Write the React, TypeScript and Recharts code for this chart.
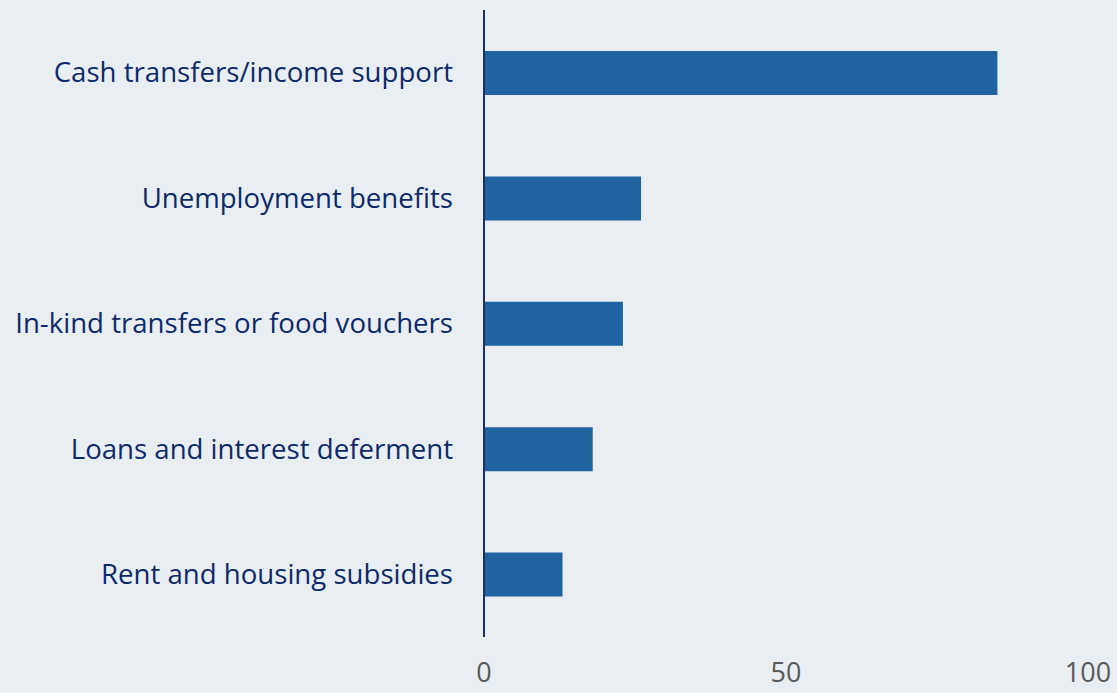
import React from "react";
import { BarChart, Bar, XAxis, YAxis } from "recharts";

// Support measures, share (%)
const categories = [
  "Cash transfers/income support",
  "Unemployment benefits",
  "In-kind transfers or food vouchers",
  "Loans and interest deferment",
  "Rent and housing subsidies",
];
const shares = [85, 26, 23, 18, 13];
const xTicks = [0, 50, 100];

const data = categories.map((name, i) => ({ name, value: shares[i] }));

const FONT = "'Open Sans', 'Noto Sans', sans-serif";

export default function App() {
  return (
    <div
      style={{
        position: "absolute",
        left: 0,
        top: 0,
        width: 1117,
        height: 693,
        background: "#E9EEF3",
        fontFamily: FONT,
      }}
    >
      <BarChart
        width={1117}
        height={693}
        data={data}
        layout="vertical"
        margin={{ top: 10, right: 29, bottom: 0, left: 0 }}
      >
        <XAxis
          type="number"
          domain={[0, 100]}
          ticks={xTicks}
          axisLine={false}
          tickLine={false}
          tickSize={0}
          tickMargin={26}
          height={56}
          tick={{ fill: "#595959", fontSize: 27, fontFamily: FONT }}
        />
        <YAxis
          type="category"
          dataKey="name"
          width={484}
          axisLine={{ stroke: "#1B2F6B", strokeWidth: 2 }}
          tickLine={false}
          tickSize={0}
          tickMargin={31}
          interval={0}
          tick={{ fill: "#0D2A6B", fontSize: 27.6, fontFamily: FONT }}
        />
        <Bar dataKey="value" fill="#1F63A1" barSize={44} isAnimationActive={false} />
      </BarChart>
    </div>
  );
}
